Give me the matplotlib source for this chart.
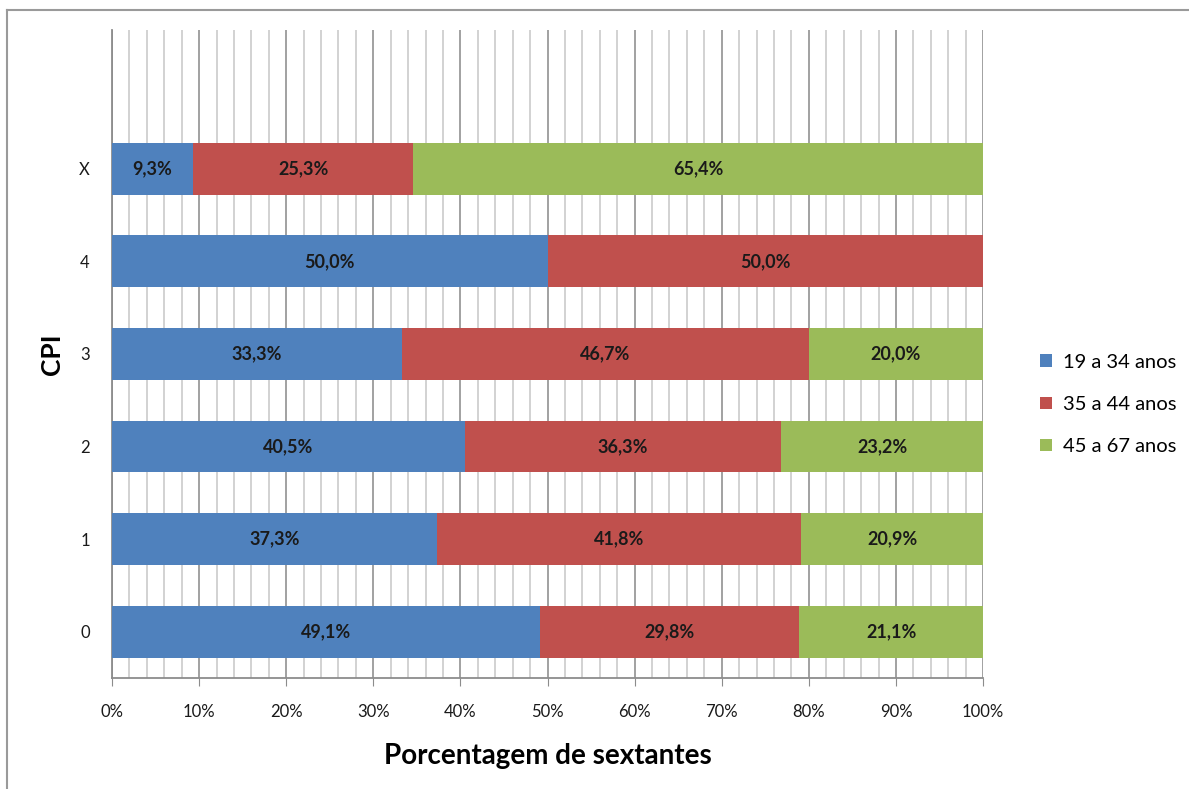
import matplotlib.pyplot as plt
import matplotlib as mpl
import numpy as np
from matplotlib.ticker import MultipleLocator, PercentFormatter
from matplotlib.lines import Line2D

mpl.rcParams["font.family"] = ["Lato", "DejaVu Sans"]

categories = ["0", "1", "2", "3", "4", "X"]
age_groups = ["19 a 34 anos", "35 a 44 anos", "45 a 67 anos"]
young = [49.1, 37.3, 40.5, 33.3, 50.0, 9.3]
middle = [29.8, 41.8, 36.3, 46.7, 50.0, 25.3]
older = [21.1, 20.9, 23.2, 20.0, 0.0, 65.4]
colors = ["#4F81BD", "#C0504D", "#9BBB59"]

fig = plt.figure(figsize=(11.89, 7.89), dpi=100)
ax = fig.add_axes([0.0942, 0.1407, 0.7326, 0.8213])

ypos = np.arange(len(categories))
left = np.zeros(len(categories))
for vals, col, name in zip([young, middle, older], colors, age_groups):
    vals = np.array(vals)
    ax.barh(ypos, vals, left=left, height=0.56, color=col, label=name, zorder=3)
    for y, l, v in zip(ypos, left, vals):
        if v > 0:
            ax.text(l + v / 2, y, f"{v:.1f}%".replace(".", ","), ha="center",
                    va="center", fontsize=13, fontweight="bold", color="#1a1a1a",
                    zorder=4)
    left += vals

ax.set_xlim(0, 100)
ax.set_ylim(-0.5, 6.5)
ax.set_yticks(ypos)
ax.set_yticklabels(categories)
ax.xaxis.set_major_locator(MultipleLocator(10))
ax.xaxis.set_minor_locator(MultipleLocator(2))
ax.xaxis.set_major_formatter(PercentFormatter(decimals=0))

# vertical gridlines: light every 2%, darker every 10%
ax.grid(axis="x", which="minor", color="#cfcfcf", linewidth=1.3, zorder=0)
ax.grid(axis="x", which="major", color="#9a9a9a", linewidth=1.3, zorder=1)
ax.set_axisbelow(True)

for side in ["top", "right"]:
    ax.spines[side].set_visible(False)
ax.spines["left"].set_color("#8c8c8c")
ax.spines["bottom"].set_color("#8c8c8c")
ax.spines["left"].set_linewidth(1.3)
ax.spines["bottom"].set_linewidth(1.3)

ax.tick_params(axis="x", which="major", length=6, color="#8c8c8c", pad=13,
               labelsize=12, labelcolor="#1a1a1a")
ax.tick_params(axis="x", which="minor", length=0)
ax.tick_params(axis="y", length=0, pad=16, labelsize=12, labelcolor="#1a1a1a")

ax.set_xlabel("Porcentagem de sextantes", fontsize=20, fontweight="bold",
              labelpad=16)
ax.set_ylabel("CPI", fontsize=19, fontweight="bold", labelpad=11)

ax.legend(loc="center left", bbox_to_anchor=(1.045, 0.422), frameon=False,
          fontsize=14.5, handlelength=0.6, handleheight=0.6, handletextpad=0.5,
          labelspacing=1.25)

# outer frame on the left and top edges
fig.add_artist(Line2D([0.0059, 0.0059], [0.0, 0.987], color="#9a9a9a",
                      linewidth=1.5, transform=fig.transFigure))
fig.add_artist(Line2D([0.0059, 1.0], [0.987, 0.987], color="#9a9a9a",
                      linewidth=1.5, transform=fig.transFigure))

fig.savefig("out.png", dpi=100)
